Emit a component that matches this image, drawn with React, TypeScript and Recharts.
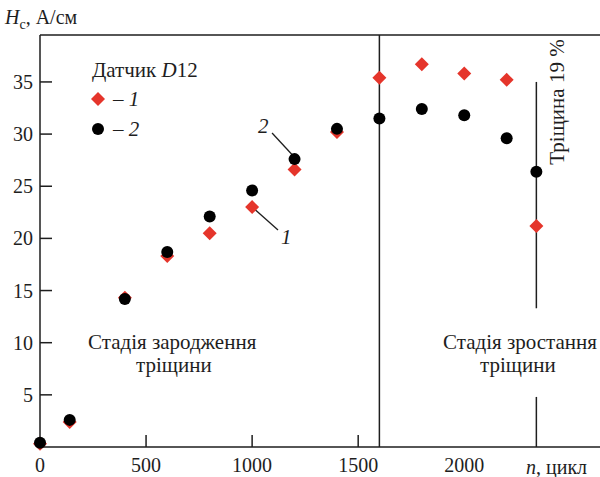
import React from "react";
import {
  ScatterChart,
  Scatter,
  XAxis,
  YAxis,
  ReferenceLine,
} from "recharts";

// цикли навантаження
const cycles = [0, 140, 400, 600, 800, 1000, 1200, 1400, 1600, 1800, 2000, 2200, 2340];
// Hc, А/см — датчик D12, крива 1 (червоні ромби)
const sensor1 = [0.3, 2.4, 14.3, 18.3, 20.5, 23.0, 26.6, 30.2, 35.4, 36.7, 35.8, 35.2, 21.2];
// крива 2 (чорні кола)
const sensor2 = [0.4, 2.6, 14.2, 18.7, 22.1, 24.6, 27.6, 30.5, 31.5, 32.4, 31.8, 29.6, 26.4];

const xTicks = [0, 500, 1000, 1500, 2000];
const xTickMarks = [500, 1000, 1500];
const yTicks = [5, 10, 15, 20, 25, 30, 35];

const xMax = 2640;
const yMax = 39.5;
const stageBoundary = 1600;
const crackAt = 2340;
// відрізки вертикальної лінії «тріщина» (з розривом під підписом)
const crackSegments = [
  [35, 13.3],
  [4.8, 0],
];
// виноски до кривих: [від, до]
const leaders = [
  { from: { x: 1094, y: 30.1 }, to: { x: 1190, y: 28.0 } },
  { from: { x: 1122, y: 20.8 }, to: { x: 1012, y: 22.8 } },
];

const RED = "#e5352b";
const INK = "#1e1e1e";
const FONT = "'Times New Roman', 'Liberation Serif', 'DejaVu Serif', serif";
const FS = 20;
const FS_TEXT = 21;

const data1 = cycles.map((n, i) => ({ n, v: sensor1[i] }));
const data2 = cycles.map((n, i) => ({ n, v: sensor2[i] }));

// eslint-disable-next-line @typescript-eslint/no-explicit-any
const Diamond = ({ cx, cy }: any) => (
  <polygon
    points={`${cx},${cy - 7} ${cx + 7},${cy} ${cx},${cy + 7} ${cx - 7},${cy}`}
    fill={RED}
  />
);

// eslint-disable-next-line @typescript-eslint/no-explicit-any
const Dot = ({ cx, cy }: any) => <circle cx={cx} cy={cy} r={6} fill="#000" />;

// eslint-disable-next-line @typescript-eslint/no-explicit-any
const YTick = ({ x, y, payload }: any) => (
  <g>
    <line x1={x} x2={x + 12} y1={y} y2={y} stroke={INK} strokeWidth={1.5} />
    <text
      x={x - 7}
      y={y}
      dy={7}
      textAnchor="end"
      fontFamily={FONT}
      fontSize={FS}
      fill={INK}
    >
      {payload.value}
    </text>
  </g>
);

// eslint-disable-next-line @typescript-eslint/no-explicit-any
const XTick = ({ x, y, payload }: any) => (
  <g>
    {xTickMarks.includes(payload.value) && (
      <line x1={x} x2={x} y1={y} y2={y - 12} stroke={INK} strokeWidth={1.5} />
    )}
    <text
      x={x}
      y={y}
      dy={25}
      textAnchor="middle"
      fontFamily={FONT}
      fontSize={FS}
      fill={INK}
    >
      {payload.value}
    </text>
  </g>
);

const txt: React.CSSProperties = {
  position: "absolute",
  fontFamily: FONT,
  fontSize: FS_TEXT,
  color: INK,
  whiteSpace: "nowrap",
  lineHeight: "22px",
};

export default function App() {
  return (
    <div
      style={{
        position: "absolute",
        left: 0,
        top: 0,
        width: 600,
        height: 477,
        background: "#fff",
        overflow: "hidden",
      }}
    >
      <ScatterChart
        width={600}
        height={477}
        margin={{ top: 35, right: 0, bottom: 0, left: 0 }}
      >
        <XAxis
          type="number"
          dataKey="n"
          domain={[0, xMax]}
          ticks={xTicks}
          height={30}
          tickSize={0}
          tickMargin={0}
          tick={<XTick />}
          axisLine={{ stroke: INK, strokeWidth: 1.5 }}
          tickLine={false}
        />
        <YAxis
          type="number"
          dataKey="v"
          domain={[0, yMax]}
          ticks={yTicks}
          width={40}
          tickSize={0}
          tickMargin={0}
          tick={<YTick />}
          axisLine={{ stroke: INK, strokeWidth: 1.5 }}
          tickLine={false}
        />
        <ReferenceLine y={yMax} stroke={INK} strokeWidth={1.5} />
        <ReferenceLine x={stageBoundary} stroke={INK} strokeWidth={1.5} />
        {crackSegments.map(([a, b], i) => (
          <ReferenceLine
            key={`crack-${i}`}
            segment={[
              { x: crackAt, y: a },
              { x: crackAt, y: b },
            ]}
            stroke={INK}
            strokeWidth={1.5}
          />
        ))}
        {leaders.map((l, i) => (
          <ReferenceLine
            key={`leader-${i}`}
            segment={[l.from, l.to]}
            stroke={INK}
            strokeWidth={1.3}
          />
        ))}
        <Scatter
          name="1"
          data={data1}
          shape={<Diamond />}
          isAnimationActive={false}
        />
        <Scatter
          name="2"
          data={data2}
          shape={<Dot />}
          isAnimationActive={false}
        />
      </ScatterChart>

      {/* вісь Y */}
      <div style={{ ...txt, fontSize: FS, left: 5, top: 6 }}>
        <i>H</i>
        <sub style={{ fontSize: 14, lineHeight: 0 }}>c</sub>, А/см
      </div>
      {/* вісь X */}
      <div style={{ ...txt, fontSize: FS, left: 526, top: 456 }}>
        <i>n</i>, цикл
      </div>

      {/* легенда */}
      <div style={{ ...txt, left: 92, top: 59 }}>
        Датчик <i>D</i>12
      </div>
      <svg
        width={16}
        height={50}
        style={{ position: "absolute", left: 90, top: 91 }}
      >
        <Diamond cx={8} cy={8} />
        <Dot cx={8} cy={38} />
      </svg>
      <div style={{ ...txt, left: 113, top: 88 }}>
        – <i>1</i>
      </div>
      <div style={{ ...txt, left: 113, top: 118 }}>
        – <i>2</i>
      </div>

      {/* номери кривих */}
      <div style={{ ...txt, left: 258, top: 115 }}>
        <i>2</i>
      </div>
      <div style={{ ...txt, left: 281, top: 226 }}>
        <i>1</i>
      </div>

      {/* стадії */}
      <div style={{ ...txt, left: 88, top: 331 }}>Стадія зародження</div>
      <div style={{ ...txt, left: 136, top: 354 }}>тріщини</div>
      <div style={{ ...txt, left: 443, top: 331 }}>Стадія зростання</div>
      <div style={{ ...txt, left: 480, top: 354 }}>тріщини</div>

      {/* тріщина */}
      <div
        style={{
          ...txt,
          left: 557,
          top: 102,
          transform: "translate(-50%, -50%) rotate(-90deg)",
        }}
      >
        Тріщина 19 %
      </div>
    </div>
  );
}
